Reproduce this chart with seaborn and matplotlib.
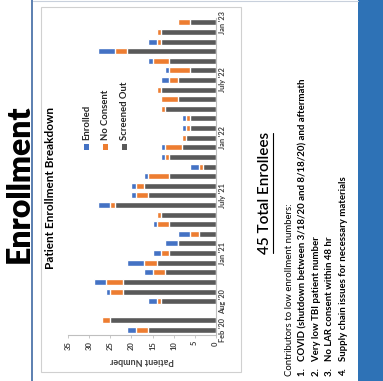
import matplotlib
matplotlib.use("Agg")
import matplotlib.pyplot as plt
from matplotlib.patches import Rectangle
from matplotlib.lines import Line2D
import seaborn as sns
import pandas as pd

# ---------------- data ----------------
categories = ["Feb '20", "Mar '20", "Apr-Jul '20", "Aug '20", "Sep '20", "Oct '20", "Nov '20",
              "Dec '20", "Jan '21", "Feb '21", "Mar '21", "Apr '21", "May '21", "Jun '21",
              "July '21", "Aug '21", "Sep '21", "Oct '21", "Nov '21", "Dec '21", "Jan '22",
              "Feb '22", "Mar '22", "Apr '22", "May '22", "Jun '22", "July '22", "Aug '22",
              "Sep '22", "Oct '22", "Nov '22", "Dec '22", "Jan '23"]
enrolled = [2, 0, 0, 2, 1, 3, 2, 4, 2, 3, 3, 1, 0, 3, 1, 1, 1, 2, 1, 1, 0,
            1, 1, 0, 0, 0, 2, 1, 1, 4, 2, 0, 0]
no_consent = [3, 2, 0, 1, 3, 4, 3, 3, 2, 0, 2, 3, 1, 1, 3, 2, 5, 1, 1, 4, 1,
              1, 1, 1, 4, 1, 2, 5, 4, 3, 1, 1, 3]
screened_out = [16, 25, 0, 13, 22, 22, 12, 14, 11, 9, 4, 11, 13, 24, 16, 17, 11, 3, 11, 8, 7,
                6, 6, 12, 9, 13, 9, 6, 11, 21, 13, 13, 6]
tick_labels = ["Feb '20", "Aug '20", "Jan '21", "July '21", "Jan '22", "July '22", "Jan '23"]
value_ticks = [0, 5, 10, 15, 20, 25, 30, 35]
series_names = ["Enrolled", "No Consent", "Screened Out"]
series_colors = ["#4472C4", "#ED7D31", "#595959"]

df = pd.DataFrame({"month": categories, "E": enrolled, "N": no_consent, "S": screened_out})
df["lvl_S"] = df["S"]
df["lvl_N"] = df["S"] + df["N"]
df["lvl_E"] = df["S"] + df["N"] + df["E"]

# ---------------- figure ----------------
sns.set_theme(style="white")
plt.rcParams["font.family"] = ["Lato", "DejaVu Sans"]

W, H = 383, 381
fig = plt.figure(figsize=(W / 100, H / 100), dpi=100)
fig.patch.set_facecolor("white")

def fx(px):
    return px / W

def fy(py):
    return 1 - py / H

# slide decorations
fig.patches.append(Rectangle((fx(358), 0), fx(383) - fx(358), 1, transform=fig.transFigure,
                             facecolor="#2E72B6", edgecolor="none", zorder=0))
fig.lines.append(Line2D([fx(32), fx(32)], [0, 1], transform=fig.transFigure,
                        color="#5B7FB0", lw=1.4))
fig.lines.append(Line2D([fx(33), fx(358)], [fy(1), fy(1)], transform=fig.transFigure,
                        color="#C8D0DC", lw=0.8))
fig.patches.append(Rectangle((fx(41), fy(372)), fx(241) - fx(41), fy(7) - fy(372),
                             transform=fig.transFigure, facecolor="none",
                             edgecolor="#D0D0D0", lw=0.8, zorder=0))

fig.text(fx(19), fy(184), "Enrollment", rotation=90, ha="center", va="center",
         fontsize=23, fontweight="heavy", color="black")

# ---------------- chart ----------------
ax = fig.add_axes([fx(68.3), fy(334.8), fx(215.7) - fx(68.3), fy(17.5) - fy(334.8)])
ax.set_facecolor("none")
bar_w = 0.62
for col, color in zip(["lvl_E", "lvl_N", "lvl_S"], series_colors):
    sns.barplot(data=df, x=col, y="month", orient="h", color=color, saturation=1,
                width=bar_w, ax=ax, order=categories)

ax.set_xlim(35, 0)
ax.set_ylim(-0.5, len(categories) - 0.5)
ax.set_xticks(value_ticks)
ax.set_xticklabels([str(v) for v in value_ticks], rotation=90, fontsize=5.5,
                   color="#404040", fontweight="bold")
ax.tick_params(axis="x", direction="out", length=2.5, width=0.6, color="#BFBFBF", pad=2,
               bottom=True)
ax.yaxis.tick_right()
ax.set_yticks([categories.index(t) for t in tick_labels])
ax.set_yticklabels(tick_labels, rotation=90, fontsize=5.3, color="#404040",
                   fontweight="bold", va="center")
ax.tick_params(axis="y", length=0, pad=2.5)
ax.set_ylabel("")
ax.set_xlabel("Patient Number", rotation=180, fontsize=6.5, fontweight="bold",
              color="#404040", labelpad=4)
for s in ["left", "top"]:
    ax.spines[s].set_visible(False)
for s in ["right", "bottom"]:
    ax.spines[s].set_visible(True)
    ax.spines[s].set_color("#BFBFBF")
    ax.spines[s].set_linewidth(0.8)
ax.grid(False)

fig.text(fx(50), fy(188), "Patient Enrollment Breakdown", rotation=90, ha="center",
         va="center", fontsize=8.5, fontweight="bold", color="black")

# legend
leg_x = [86.7, 105.5, 124.2]
for name, color, lx in zip(series_names, series_colors, leg_x):
    fig.patches.append(Rectangle((fx(lx - 2.6), fy(149.5)), fx(5.2), fy(144.3) - fy(149.5),
                                 transform=fig.transFigure, facecolor=color,
                                 edgecolor="none"))
    fig.text(fx(lx), fy(140.5), name, rotation=90, ha="center", va="bottom",
             fontsize=6.8, fontweight="bold", color="#262626")

# ---------------- text on the right ----------------
t45 = fig.text(fx(265), fy(193), "45 Total Enrollees", rotation=90, ha="center",
               va="center", fontsize=11, fontweight="semibold", color="black")
fig.text(fx(289), fy(376), "Contributors to low enrollment numbers:", rotation=90,
         ha="center", va="bottom", fontsize=6.9, color="black")
items = ["1.   COVID (shutdown between 3/18/20 and 8/18/20) and aftermath",
         "2.   Very low TBI patient number",
         "3.   No LAR consent within 48 hr",
         "4.   Supply chain issues for necessary materials"]
for i, txt in enumerate(items):
    fig.text(fx(303 + 13.5 * i), fy(376), txt, rotation=90, ha="center", va="bottom",
             fontsize=6.9, fontweight="bold", color="black")

fig.canvas.draw()
bb = t45.get_window_extent(fig.canvas.get_renderer())
inv = fig.transFigure.inverted()
(x0, y0) = inv.transform((bb.x1 + 0.5, bb.y0 + 1))
(x1, y1) = inv.transform((bb.x1 + 0.5, bb.y1 - 1))
fig.lines.append(Line2D([x0, x1], [y0, y1], transform=fig.transFigure, color="black", lw=0.8))

fig.savefig("out.png", dpi=100)
